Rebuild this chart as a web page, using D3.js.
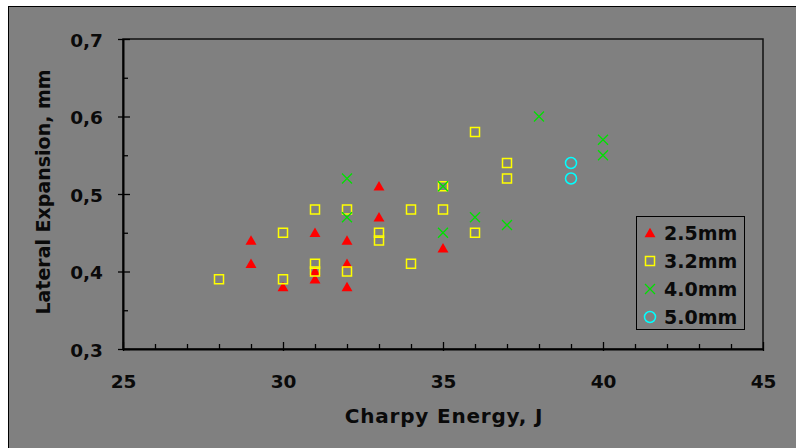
<!DOCTYPE html>
<html><head><meta charset="utf-8">
<script src="https://cdn.jsdelivr.net/npm/d3@7"></script>
<style>html,body{margin:0;padding:0;background:#fff;}svg{display:block;}</style>
</head><body>
<svg id="chart" width="796" height="448"></svg>
<script>
const seriesNames = ["2.5mm", "3.2mm", "4.0mm", "5.0mm"];
const s25x = [29, 29, 30, 31, 31, 31, 32, 32, 32, 33, 33, 35];
const s25y = [0.44, 0.41, 0.38, 0.45, 0.40, 0.39, 0.44, 0.41, 0.38, 0.51, 0.47, 0.43];
const s32x = [28, 30, 30, 31, 31, 31, 32, 32, 33, 33, 34, 34, 35, 35, 36, 36, 37, 37];
const s32y = [0.39, 0.45, 0.39, 0.48, 0.41, 0.40, 0.48, 0.40, 0.45, 0.44, 0.48, 0.41, 0.51, 0.48, 0.58, 0.45, 0.54, 0.52];
const s40x = [32, 32, 35, 35, 36, 37, 38, 40, 40];
const s40y = [0.52, 0.47, 0.51, 0.45, 0.47, 0.46, 0.60, 0.57, 0.55];
const s50x = [39, 39];
const s50y = [0.54, 0.52];
const xTicks = [25, 30, 35, 40, 45];
const yTicks = [0.3, 0.4, 0.5, 0.6, 0.7];
const xTitle = "Charpy Energy, J";
const yTitle = "Lateral Expansion, mm";

const series = [
  {name: seriesNames[0], xs: s25x, ys: s25y, type: "tri", color: "#ff0000"},
  {name: seriesNames[1], xs: s32x, ys: s32y, type: "sq", color: "#ffff00"},
  {name: seriesNames[2], xs: s40x, ys: s40y, type: "x", color: "#00e000"},
  {name: seriesNames[3], xs: s50x, ys: s50y, type: "circ", color: "#00ffff"}
];

const svg = d3.select("#chart");
const bg = "#808080";
const ink = "#0a0a0a";
svg.append("rect").attr("x", 8.5).attr("y", 6.5).attr("width", 800).attr("height", 460)
  .attr("fill", bg).attr("stroke", "#000").attr("stroke-width", 1);

const L = 123, R = 763, T = 39, B = 349;
const x = d3.scaleLinear().domain([25, 45]).range([L, R]);
const y = d3.scaleLinear().domain([0.3, 0.7]).range([B, T]);

const axFont = "'DejaVu Sans', sans-serif";

// plot border
svg.append("rect").attr("x", L).attr("y", T).attr("width", R - L).attr("height", B - T)
  .attr("fill", bg).attr("stroke", "#111").attr("stroke-width", 1.5);

// x axis
const xMinor = d3.range(25, 45.01, 1);
const xAxis = d3.axisBottom(x).tickValues(xMinor).tickSize(0).tickFormat("");
const gx = svg.append("g").attr("transform", `translate(0,${B})`).call(xAxis);
gx.select(".domain").attr("stroke", "#000").attr("stroke-width", 2);
gx.selectAll(".tick line").remove();
gx.selectAll(".tick").append("line")
  .attr("y1", d => xTicks.includes(d) ? -7 : -5)
  .attr("y2", d => xTicks.includes(d) ? 2 : 0)
  .attr("stroke", "#000").attr("stroke-width", 1.3);
gx.selectAll(".tick").filter(d => xTicks.includes(d)).append("text")
  .attr("y", 39).attr("fill", ink).attr("text-anchor", "middle")
  .style("font-family", axFont).style("font-weight", "bold").style("font-size", "18.5px")
  .text(d => d);

// y axis
const yMinor = d3.range(0, 9).map(i => 0.3 + i * 0.05);
const yAxis = d3.axisLeft(y).tickValues(yMinor).tickSize(0).tickFormat("");
const gy = svg.append("g").attr("transform", `translate(${L},0)`).call(yAxis);
gy.select(".domain").attr("stroke", "#000").attr("stroke-width", 2);
gy.selectAll(".tick line").remove();
const isMajorY = d => yTicks.some(t => Math.abs(t - d) < 1e-6);
gy.selectAll(".tick").append("line")
  .attr("x1", d => isMajorY(d) ? -5 : 0)
  .attr("x2", d => isMajorY(d) ? 7 : 5)
  .attr("stroke", "#000").attr("stroke-width", 1.3);
gy.selectAll(".tick").filter(isMajorY).append("text")
  .attr("x", -20).attr("y", 7).attr("fill", ink).attr("text-anchor", "end")
  .style("font-family", axFont).style("font-weight", "bold").style("font-size", "18.5px")
  .text(d => d3.format(".1f")(d).replace(".", ","));

// axis titles
svg.append("text").attr("x", 444).attr("y", 423).attr("text-anchor", "middle")
  .style("font-family", axFont).style("font-weight", "bold").style("font-size", "20px")
  .style("letter-spacing", "0.8px")
  .attr("fill", ink).text(xTitle);
svg.append("text").attr("transform", "translate(50,192) rotate(-90)").attr("text-anchor", "middle")
  .style("font-family", axFont).style("font-weight", "bold").style("font-size", "19px")
  .attr("fill", ink).text(yTitle);

function drawMarker(g, type, color) {
  if (type === "tri") {
    g.append("path").attr("d", d3.symbol().type(d3.symbolTriangle).size(52)())
      .attr("transform", "translate(0,1)").attr("fill", color);
  } else if (type === "sq") {
    g.append("rect").attr("x", -4.5).attr("y", -4.5).attr("width", 9).attr("height", 9)
      .attr("fill", "none").attr("stroke", color).attr("stroke-width", 1.5);
  } else if (type === "x") {
    g.append("path").attr("d", "M-5,-5L5,5M-5,5L5,-5")
      .attr("fill", "none").attr("stroke", color).attr("stroke-width", 1.3);
  } else {
    g.append("circle").attr("r", 5.5).attr("fill", "none").attr("stroke", color).attr("stroke-width", 1.5);
  }
}

series.forEach(s => {
  const pts = s.xs.map((v, i) => [v, s.ys[i]]);
  const g = svg.append("g");
  pts.forEach(p => {
    const m = g.append("g").attr("transform", `translate(${x(p[0])},${y(p[1])})`);
    drawMarker(m, s.type, s.color);
  });
});

// legend
const lg = svg.append("g");
lg.append("rect").attr("x", 636.5).attr("y", 216.5).attr("width", 108).attr("height", 113)
  .attr("fill", bg).attr("stroke", "#000").attr("stroke-width", 1);
series.forEach((s, i) => {
  const cy = 233 + i * 28;
  const m = lg.append("g").attr("transform", `translate(650,${cy})`);
  drawMarker(m, s.type, s.color);
  lg.append("text").attr("x", 664).attr("y", cy).attr("dy", "0.36em")
    .style("font-family", axFont).style("font-weight", "bold").style("font-size", "19px")
    .attr("fill", ink).text(s.name);
});
</script>
</body></html>
